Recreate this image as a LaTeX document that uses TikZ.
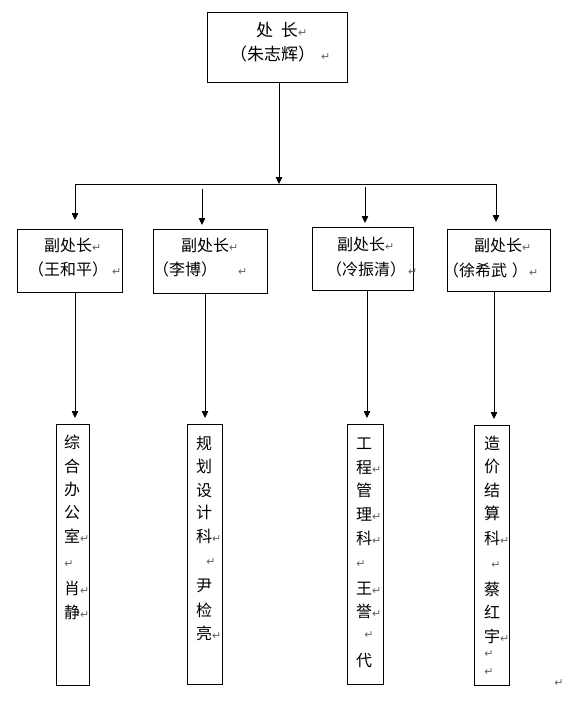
\documentclass[tikz,border=0pt]{standalone}
\usepackage{fontspec}
\newfontfamily\cjk{Noto Sans CJK SC}
\newfontfamily\mkfont{DejaVu Sans}
\usetikzlibrary{arrows.meta}
\definecolor{mkgray}{RGB}{100,100,100}
\newcommand\mk{{\mkfont\fontsize{11}{11}\selectfont\color{mkgray}↵}}
\tikzset{
  box/.style={draw, line width=0.75pt, inner sep=0pt, outer sep=0pt},
  txt/.style={anchor=base west, inner sep=0pt, outer sep=0pt, font=\cjk\fontsize{16}{16}\selectfont},
  toptxt/.style={txt, font=\cjk\fontsize{17}{17}\selectfont},
  marknode/.style={inner sep=0pt, outer sep=0pt, font=\mkfont\fontsize{11}{11}\selectfont, text=mkgray},
  arr/.style={line width=0.75pt, -{Triangle[length=7pt,width=6.5pt]}},
  conn/.style={line width=0.75pt},
}
\begin{document}
\begin{tikzpicture}[x=1pt,y=-1pt]
\useasboundingbox[fill=white] (0,0) rectangle (571,720);
% boxes
\node[box, minimum width=140pt, minimum height=70pt] (top) at (277,47) {};
\node[box, minimum width=105pt, minimum height=63pt] (b1) at (69.5,260.5) {};
\node[box, minimum width=114pt, minimum height=64pt] (b2) at (210,261) {};
\node[box, minimum width=101pt, minimum height=63pt] (b3) at (362.5,258.5) {};
\node[box, minimum width=103pt, minimum height=62pt] (b4) at (498.5,260) {};
\node[box, minimum width=33pt, minimum height=261pt] (c1) at (72.5,554.5) {};
\node[box, minimum width=35pt, minimum height=260pt] (c2) at (204.5,554) {};
\node[box, minimum width=36pt, minimum height=260pt] (c3) at (365,554) {};
\node[box, minimum width=35pt, minimum height=260pt] (c4) at (491.5,555) {};
% top text
\node[toptxt] (tl1) at (256,36.5) {处\hspace{8pt}长\mk};
\node[toptxt] (tl2) at (230,60.5) {（朱志辉）\hspace{6pt}\mk};
% second level text
\node[txt] (b1l1) at (44,251) {副处长\mk};
\node[txt] (b1l2) at (28,275) {（王和平）\hspace{4pt}\mk};
\node[txt] (b2l1) at (181,251) {副处长\mk};
\node[txt] (b2l2) at (153,275) {（李博）\hspace{21pt}\mk};
\node[txt] (b3l1) at (337,250) {副处长\mk};
\node[txt] (b3l2) at (326,275) {（冷振清）\hspace{2pt}\mk};
\node[txt] (b4l1) at (474,251) {副处长\mk};
\node[txt] (b4l2) at (443,276) {（徐希武\hspace{5pt}）\hspace{1pt}\mk};
% columns
\foreach \t/\y [count=\i] in {综/442, 合/466, 办/489, 公/512, {室\mk}/536, {肖\mk}/588, {静\mk}/612}
  \node[txt] (c1t\i) at (64,\y+6) {\t};
\foreach \t/\y [count=\i] in {规/443, 划/466, 设/490, 计/512, {科\mk}/536, 尹/585, 检/610, {亮\mk}/633}
  \node[txt] (c2t\i) at (196,\y+6) {\t};
\foreach \t/\y [count=\i] in {工/443, {程\mk}/467, 管/490, {理\mk}/514, {科\mk}/538, {王\mk}/588, {誉\mk}/611, 代/660}
  \node[txt] (c3t\i) at (356,\y+6) {\t};
\foreach \t/\y [count=\i] in {造/443, 价/466, 结/490, 算/513, {科\mk}/538, 蔡/589, 红/612, {宇\mk}/636}
  \node[txt] (c4t\i) at (484,\y+6) {\t};
% blank-line marks
\node[marknode] (m1) at (69,564) {↵};
\node[marknode] (m2) at (211,562) {↵};
\node[marknode] (m3) at (361,564) {↵};
\node[marknode] (m4) at (369,635) {↵};
\node[marknode] (m5) at (496,565) {↵};
\node[marknode] (m6) at (489,654) {↵};
\node[marknode] (m7) at (489,672) {↵};
\node[marknode] (m8) at (559,683) {↵};
% connectors top level
\coordinate (j) at (279,184);
\draw[arr] (top.south -| j) -- (j);
\coordinate (hl) at (75,184);
\coordinate (hr) at (496,184);
\draw[conn] (hl) -- (hr);
\coordinate (s2) at (202,189);
\coordinate (s3) at (365,187);
\coordinate (e1) at (75,220);
\coordinate (e2) at (202,225);
\coordinate (e3) at (365,223);
\coordinate (e4) at (496,222);
\draw[arr] (hl) -- (e1);
\draw[arr] (s2) -- (e2);
\draw[arr] (s3) -- (e3);
\draw[arr] (hr) -- (e4);
% connectors to third level
\coordinate (f1) at (75,418);
\coordinate (f2) at (205,418);
\coordinate (f3) at (367,418);
\coordinate (f4) at (494,419);
\draw[arr] (b1.south -| f1) -- (f1);
\draw[arr] (b2.south -| f2) -- (f2);
\draw[arr] (b3.south -| f3) -- (f3);
\draw[arr] (b4.south -| f4) -- (f4);
\end{tikzpicture}
\end{document}
